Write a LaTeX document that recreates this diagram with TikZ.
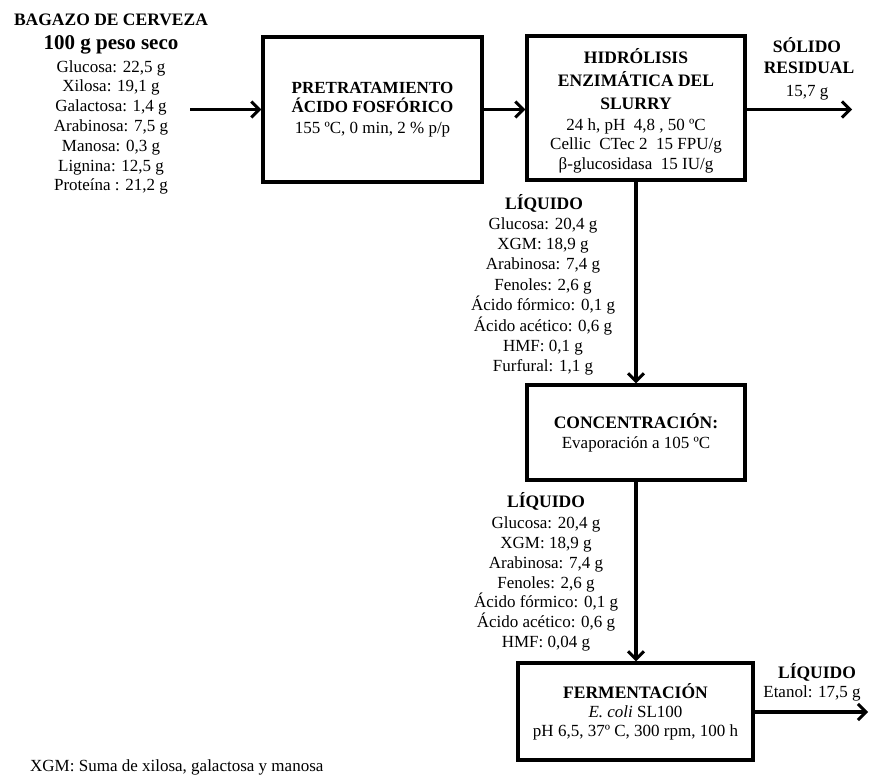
\documentclass[tikz,border=0pt]{standalone}
\usepackage{fontspec}
\setmainfont{Liberation Serif}
\usetikzlibrary{arrows.meta}
\begin{document}
\begin{tikzpicture}[x=1pt,y=-1pt,
  txt/.style={align=center,inner sep=0pt,font=\fontsize{17}{19.8}\selectfont},
  hd/.style={align=center,inner sep=0pt,font=\bfseries\fontsize{17.5}{23}\selectfont},
  stage/.style={draw,line width=3.2pt,inner sep=0pt,align=center,
    font=\fontsize{17}{19.8}\selectfont},
  flow/.style={line width=3.2pt,-{Straight Barb[length=8pt,width=16pt,line width=3pt]}}]
\useasboundingbox (0,0) rectangle (869,775);

% process stages
\node[stage,minimum width=219pt,minimum height=145pt] (pre) at (372.5,109.5)
  {\textbf{\fontsize{17}{20}\selectfont PRETRATAMIENTO}\\[-0.5pt]
   \textbf{\fontsize{17}{20}\selectfont ÁCIDO FOSFÓRICO}\\[1pt]
   155 ºC, 0 min, 2 \% p/p};
\node[stage,minimum width=218pt,minimum height=144pt] (hyd) at (636,108) {};
\node[txt] at (636,111)
  {\textbf{\fontsize{17.5}{20}\selectfont HIDRÓLISIS}\\[3pt]
   \textbf{\fontsize{17.5}{20}\selectfont ENZIMÁTICA DEL}\\[3pt]
   \textbf{\fontsize{17.5}{20}\selectfont SLURRY}\\[1pt]
   24 h, pH\ \ 4,8 , 50 ºC\\
   Cellic\ \ CTec 2\ \ 15 FPU/g\\
   β-glucosidasa\ \ 15 IU/g};
\node[stage,minimum width=218pt,minimum height=95pt] (conc) at (636,432.5)
  {\textbf{\fontsize{17.5}{20}\selectfont CONCENTRACIÓN:}\\[0pt]
   Evaporación a 105 ºC};
\node[stage,minimum width=235pt,minimum height=97pt] (fer) at (635.5,711.5)
  {\textbf{\fontsize{17.5}{20}\selectfont FERMENTACIÓN}\\[-1pt]
   \textit{E. coli} SL100\\[-1pt]
   pH 6,5, 37º C, 300 rpm, 100 h};

% feed stream
\node[hd,font=\bfseries\fontsize{17.5}{20}\selectfont] (feedA) at (111,20) {BAGAZO DE CERVEZA};
\node[hd,font=\bfseries\fontsize{21}{24}\selectfont] (feedB) at (111,45) {100 g peso seco};
\node[txt] (feed) at (111,127.5)
  {Glucosa: 22,5 g\\Xilosa: 19,1 g\\Galactosa: 1,4 g\\Arabinosa: 7,5 g\\
   Manosa: 0,3 g\\Lignina: 12,5 g\\Proteína : 21,2 g};
\coordinate (in) at (190,109.5);

% residual solid
\node[hd] (solA) at (807,45) {SÓLIDO};
\node[hd] (solB) at (809,68) {RESIDUAL};
\node[txt] (solC) at (807,93) {15,7 g};
\coordinate (outS) at (852,109.5);

% liquid after hydrolysis
\node[hd] (liqA) at (544,203) {LÍQUIDO};
\node[txt,font=\fontsize{17}{20.4}\selectfont] (liq1) at (543,296.5)
  {Glucosa: 20,4 g\\XGM: 18,9 g\\Arabinosa: 7,4 g\\Fenoles: 2,6 g\\
   Ácido fórmico: 0,1 g\\Ácido acético: 0,6 g\\HMF: 0,1 g\\Furfural: 1,1 g};

% liquid after concentration
\node[hd] (liqB) at (546,501) {LÍQUIDO};
\node[txt] (liq2) at (546,584)
  {Glucosa: 20,4 g\\XGM: 18,9 g\\Arabinosa: 7,4 g\\Fenoles: 2,6 g\\
   Ácido fórmico: 0,1 g\\Ácido acético: 0,6 g\\HMF: 0,04 g};

% fermentation product
\node[hd] (prodA) at (817,672) {LÍQUIDO};
\node[txt] (prodB) at (812,693) {Etanol: 17,5 g};
\coordinate (outL) at (868,712);

% footnote
\node[txt,anchor=west] (note) at (30,767) {XGM: Suma de xilosa, galactosa y manosa};

% connectors
\draw[flow] (in) -- (pre.west |- in);
\draw[flow] (pre.east |- in) -- (hyd.west |- in);
\draw[flow] (hyd.east |- outS) -- (outS);
\draw[flow] (hyd.south) -- (conc.north);
\draw[flow] (conc.south) -- (conc.south |- fer.north);
\draw[flow] (fer.east |- outL) -- (outL);
\end{tikzpicture}
\end{document}
